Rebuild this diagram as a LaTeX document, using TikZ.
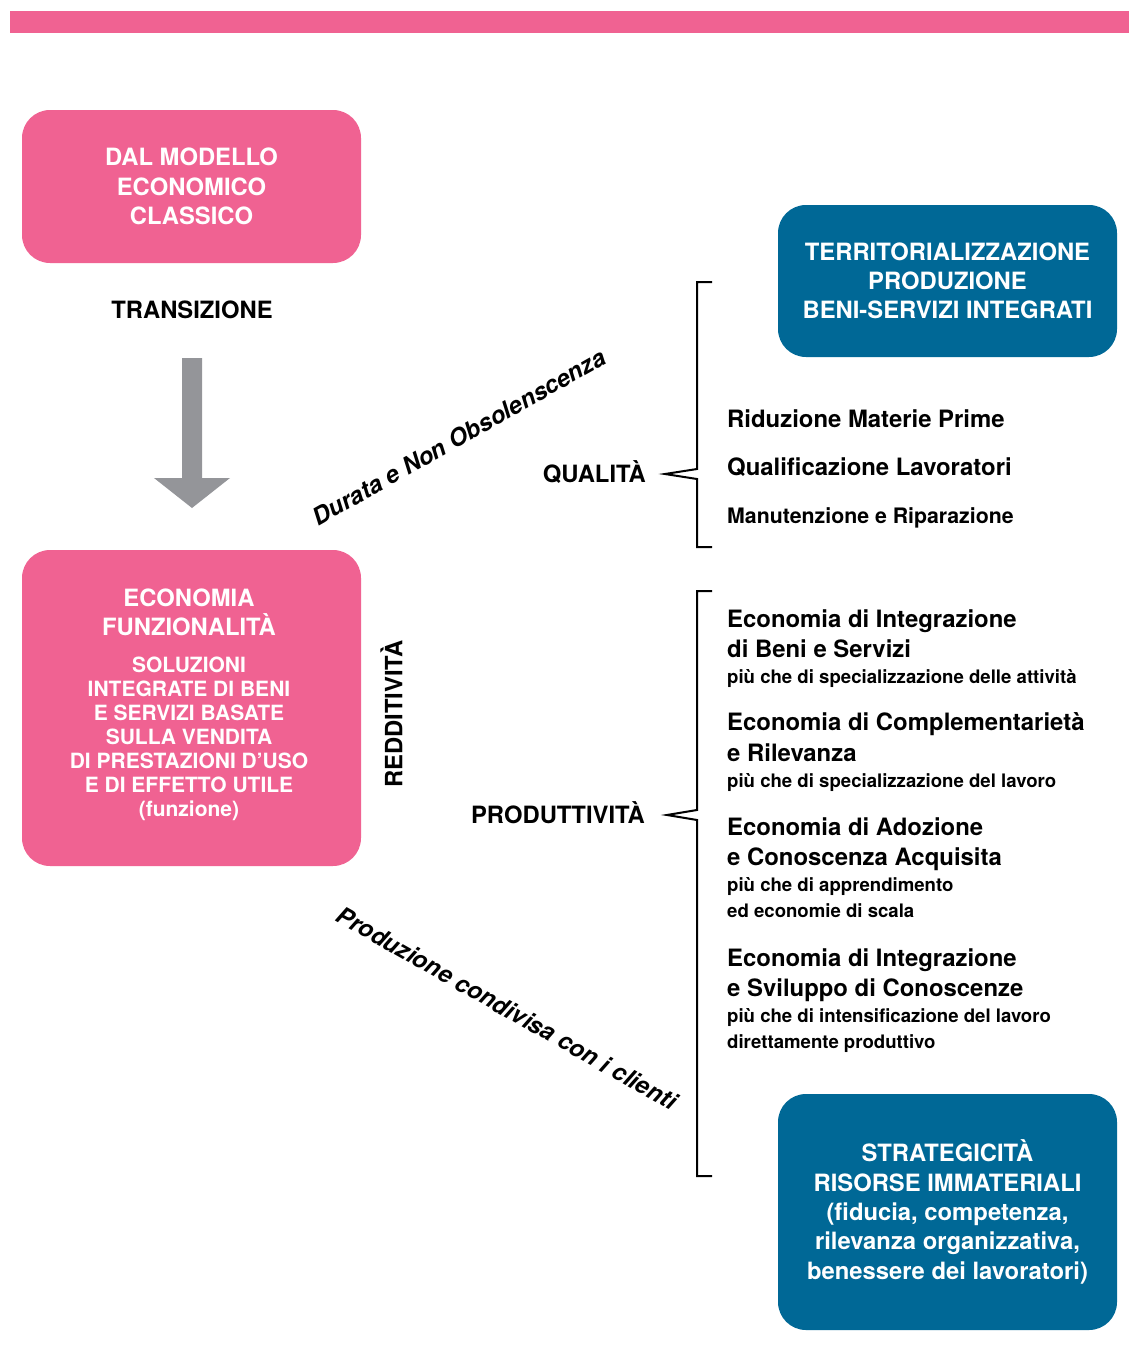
\documentclass[tikz,border=0pt]{standalone}
\usepackage{fontspec}
\setmainfont{TeX Gyre Heros}
\definecolor{rosa}{RGB}{240,98,146}
\definecolor{petrolio}{RGB}{0,104,150}
\definecolor{grigio}{RGB}{148,149,153}
\begin{document}
\begin{tikzpicture}[x=1pt,y=-1pt,
  box/.style={rounded corners=28pt, inner sep=0pt, minimum width=339pt,
    text=white, align=center, font=\bfseries\fontsize{23.8}{29.3}\selectfont},
  pinkbox/.style={box, fill=rosa},
  bluebox/.style={box, fill=petrolio},
  boxtext/.style={inner sep=0pt, text=white, align=center},
  tag/.style={inner sep=0pt, font=\bfseries\fontsize{23.8}{28}\selectfont},
  slant/.style={inner sep=0pt, font=\bfseries\itshape\fontsize{24}{28}\selectfont},
  head/.style={anchor=base west, inner sep=0pt, font=\bfseries\fontsize{23.9}{28}\selectfont},
  note/.style={anchor=base west, inner sep=0pt, font=\bfseries\fontsize{18.6}{22}\selectfont},
  brace/.style={line width=2pt, line join=miter, line cap=butt}
]
\useasboundingbox (0,0) rectangle (1129,1371);

% top band
\fill[rosa] (10,11) rectangle (1129,33);

% left column
\node[pinkbox, minimum height=153pt] (classico) at (191.5,186.5)
  {DAL MODELLO\\ECONOMICO\\CLASSICO};
\node[tag, anchor=base] (transizione) at (192,318.5) {TRANSIZIONE};
\fill[grigio] (182,358) -- (202,358) -- (202,478) -- (230,478) -- (192,508)
  -- (154,478) -- (182,478) -- cycle;
\node[pinkbox, minimum height=316pt] (funzionalita) at (191.5,708) {};
\node[boxtext, font=\bfseries\fontsize{23.8}{29}\selectfont] (funzhead) at (189,612.5)
  {ECONOMIA\\FUNZIONALITÀ};
\node[boxtext, font=\bfseries\fontsize{21}{24}\selectfont] (funzsub) at (189,739)
  {SOLUZIONI\\INTEGRATE DI BENI\\E SERVIZI BASATE\\SULLA VENDITA\\DI PRESTAZIONI D’USO\\E DI EFFETTO UTILE\\(funzione)};
\node[tag, rotate=90] (redditivita) at (391.5,714) {REDDITIVITÀ};

% slanted captions
\node[slant, rotate=29.5] (durata) at (459,437) {Durata e Non Obsolenscenza};
\node[slant, rotate=-29.5] (condivisa) at (507,1008) {Produzione condivisa con i clienti};

% brace labels
\node[tag, anchor=base east] (qualita) at (646,482) {QUALITÀ};
\node[tag, anchor=base east] (produttivita) at (645,823) {PRODUTTIVITÀ};

% braces
\coordinate (qtip) at (665,474);
\coordinate (ptip) at (667,815);
\draw[brace] (712,282) -- (697,282) -- (697,469) -- (qtip) -- (697,479)
  -- (697,547) -- (712,547);
\draw[brace] (712,591) -- (697,591) -- (697,810) -- (ptip) -- (697,820)
  -- (697,1176) -- (712,1176);

% right column boxes
\node[bluebox, minimum height=152pt] (territorio) at (947.5,281)
  {TERRITORIALIZZAZIONE\\PRODUZIONE\\BENI-SERVIZI INTEGRATI};
\node[bluebox, minimum height=236pt] (risorse) at (947.5,1212)
  {STRATEGICITÀ\\RISORSE IMMATERIALI\\(fiducia, competenza,\\rilevanza organizzativa,\\benessere dei lavoratori)};

% quality items
\node[head] (q1) at (727,427) {Riduzione Materie Prime};
\node[head] (q2) at (727,475) {Qualificazione Lavoratori};
\node[head, font=\bfseries\fontsize{21.3}{25}\selectfont] (q3) at (727,523) {Manutenzione e Riparazione};

% productivity items
\node[head] (p1a) at (727,627) {Economia di Integrazione};
\node[head] (p1b) at (727,657) {di Beni e Servizi};
\node[note] (p1c) at (727,683) {più che di specializzazione delle attività};

\node[head] (p2a) at (727,730) {Economia di Complementarietà};
\node[head] (p2b) at (727,761) {e Rilevanza};
\node[note] (p2c) at (727,787) {più che di specializzazione del lavoro};

\node[head] (p3a) at (727,835) {Economia di Adozione};
\node[head] (p3b) at (727,865) {e Conoscenza Acquisita};
\node[note] (p3c) at (727,891) {più che di apprendimento};
\node[note] (p3d) at (727,917) {ed economie di scala};

\node[head] (p4a) at (727,966) {Economia di Integrazione};
\node[head] (p4b) at (727,996) {e Sviluppo di Conoscenze};
\node[note] (p4c) at (727,1022) {più che di intensificazione del lavoro};
\node[note] (p4d) at (727,1048) {direttamente produttivo};
\end{tikzpicture}
\end{document}
